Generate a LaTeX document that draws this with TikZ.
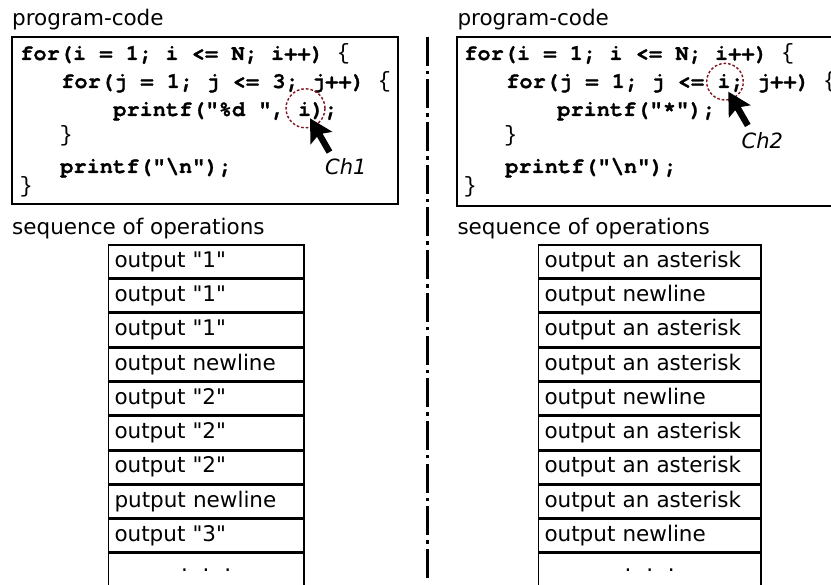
\documentclass[tikz,border=0pt]{standalone}
\usepackage{fontspec}
\setmainfont{DejaVu Sans}
\newfontfamily\dv{DejaVu Sans}
\newfontfamily\codefont{TeX Gyre Cursor}[BoldFeatures={FakeBold=1}]
\newfontfamily\bracefont{Liberation Mono}
\newcommand\cbrace[1]{{\bracefont\mdseries #1}}
\definecolor{circred}{RGB}{128,20,30}
\tikzset{
  code/.style={anchor=base west, inner sep=0pt, font=\codefont\bfseries\fontsize{22}{26}\selectfont},
  lbl/.style={anchor=base west, inner sep=0pt, font=\dv\fontsize{21.5}{26}\selectfont},
  chlbl/.style={anchor=base west, inner sep=0pt, font=\dv\itshape\fontsize{21}{26}\selectfont},
  codebox/.style={draw, line width=2pt, anchor=north west, inner sep=0pt, outer sep=0pt},
  opbox/.style={draw, line width=1.5pt, anchor=north west, outer sep=0pt, inner xsep=6pt, inner ysep=0pt,
    minimum height=32.8pt, text height=17pt, text depth=5.5pt, align=left, font=\dv\fontsize{21.5}{26}\selectfont},
  opL/.style={opbox, text width=183.3pt},
  opR/.style={opbox, text width=210.4pt},
  dots/.style={anchor=base, inner sep=0pt, font=\dv\fontsize{21.5}{26}\selectfont},
  circ/.style={circle, draw=circred, line width=1.4pt, dash pattern=on 2.6pt off 2pt, inner sep=0pt},
  sep/.style={line width=3pt, dash pattern=on 29pt off 5pt on 3.5pt off 5.2pt}
}
\begin{document}
\begin{tikzpicture}[x=1pt,y=-1pt]
\clip (0,0) rectangle (831,585);
\fill[white] (0,0) rectangle (831,585);

% ---------- left half ----------
\node[lbl] (pcL) at (12,25.5) {program-code};
\node[codebox, minimum width=386pt, minimum height=167.5pt] (boxL) at (11.7,36.7) {};
\node[code] (l1) at (20,60) {for(i = 1; i <= N; i++) \cbrace{\{}};
\node[code] (l2) at (61,88) {for(j = 1; j <= 3; j++) \cbrace{\{}};
\node[code] (l3) at (113,116) {printf("\%d ", i);};
\node[code] (l4) at (59.5,142) {\cbrace{\}}};
\node[code] (l5) at (60,173) {printf("\textbackslash n");};
\node[code] (l6) at (19.5,193) {\cbrace{\}}};

\node[circ, minimum width=39pt, minimum height=36.6pt] (c1) at (305.5,108.3) {};
\begin{scope}[shift={(310,118.3)}, x={(-0.866pt,-0.5pt)}, y={(0.5pt,-0.866pt)}]
  \fill (0,0) -- (-12.7,23) -- (-3.2,19.5) -- (-3.2,39) -- (3.2,39) -- (3.2,19.5) -- (12.7,23) -- cycle;
\end{scope}
\node[chlbl] (ch1) at (325,175) {Ch1};

\node[lbl] (seqL) at (12,235) {sequence of operations};
\foreach \t [count=\i] in {output "1",output "1",output "1",output newline,output "2",output "2",output "2",putput newline,output "3"}{
  \node[opL] (L\i) at (108.5,{245+(\i-1)*34.3}) {\t};
}
\node[opL, minimum height=40pt] (L10) at (108.5,{245+9*34.3}) {};
\node[dots] (Ld) at ([yshift=-17.8pt]L10.north) {.\hspace{14.8pt}.\hspace{14.8pt}.};

% ---------- separator ----------
\coordinate (sepTop) at (427.7,36.7);
\coordinate (sepBot) at (427.7,580);
\draw[sep] (sepTop) -- (sepBot);

% ---------- right half ----------
\node[lbl] (pcR) at (457.3,25.5) {program-code};
\node[codebox, minimum width=420pt, minimum height=169pt] (boxR) at (456.7,36.7) {};
\node[code] (r1) at (464,60) {for(i = 1; i <= N; i++) \cbrace{\{}};
\node[code] (r2) at (506,88) {for(j = 1; j <= i; j++) \cbrace{\{}};
\node[code] (r3) at (557,116) {printf("*");};
\node[code] (r4) at (504,142) {\cbrace{\}}};
\node[code] (r5) at (505,173) {printf("\textbackslash n");};
\node[code] (r6) at (463.5,193) {\cbrace{\}}};

\node[circ, minimum size=36.6pt] (c2) at (725,81.7) {};
\begin{scope}[shift={(728.3,91.7)}, x={(-0.866pt,-0.5pt)}, y={(0.5pt,-0.866pt)}]
  \fill (0,0) -- (-12.7,23) -- (-3.2,19.5) -- (-3.2,39) -- (3.2,39) -- (3.2,19.5) -- (12.7,23) -- cycle;
\end{scope}
\node[chlbl] (ch2) at (741.5,148.5) {Ch2};

\node[lbl] (seqR) at (457.3,235) {sequence of operations};
\foreach \t [count=\i] in {output an asterisk,output newline,output an asterisk,output an asterisk,output newline,output an asterisk,output an asterisk,output an asterisk,output newline}{
  \node[opR] (R\i) at (538.5,{245+(\i-1)*34.3}) {\t};
}
\node[opR, minimum height=40pt] (R10) at (538.5,{245+9*34.3}) {};
\node[dots] (Rd) at ([yshift=-17.8pt]R10.north) {.\hspace{14.8pt}.\hspace{14.8pt}.};
\end{tikzpicture}
\end{document}
